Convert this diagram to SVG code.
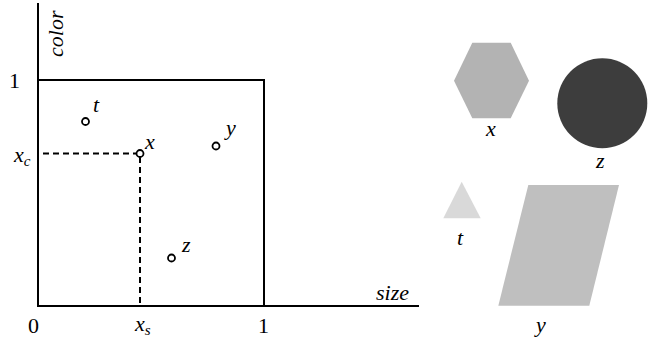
<svg xmlns="http://www.w3.org/2000/svg" width="662" height="339" viewBox="0 0 662 339" font-family="Liberation Serif, DejaVu Serif, serif" font-size="22">
<style>
.ax{stroke:#000;stroke-width:2;fill:none}
.d{stroke:#000;stroke-width:2;stroke-dasharray:6,4;fill:none}
.pt{fill:#fff;stroke:#000;stroke-width:1.8}
</style>
<rect width="662" height="339" fill="#fff"/>
<g id="axes">
<path class="ax" d="M38,3 V306 H419"/>
<path class="ax" d="M38,80 H264 V306"/>
<text font-style="italic" transform="translate(63,57) rotate(-90)">color</text>
<text font-style="italic" x="376" y="300">size</text>
<text x="9" y="88">1</text>
<text x="28" y="333">0</text>
<text x="258" y="333">1</text>
<text font-style="italic" x="14" y="162">x<tspan font-size="15" dy="4">c</tspan></text>
<text font-style="italic" x="135" y="331">x<tspan font-size="15" dy="4">s</tspan></text>
</g>
<g id="connectors">
<path class="d" d="M43,153.5 H136"/>
<path class="d" d="M140,157 V306"/>
</g>
<g id="point-t"><circle class="pt" cx="85.5" cy="121.5" r="3.5"/><text font-style="italic" x="93" y="112">t</text></g>
<g id="point-x"><circle class="pt" cx="140" cy="153.5" r="3.5"/><text font-style="italic" x="145" y="149">x</text></g>
<g id="point-y"><circle class="pt" cx="216" cy="146" r="3.5"/><text font-style="italic" x="226" y="135">y</text></g>
<g id="point-z"><circle class="pt" cx="171.5" cy="258" r="3.5"/><text font-style="italic" x="182" y="252">z</text></g>
<g id="shape-x"><polygon points="454,80.7 472.3,42.7 510.7,42.7 529,80.7 510.7,118.3 472.3,118.3" fill="#b3b3b3"/><text font-style="italic" x="486" y="136">x</text></g>
<g id="shape-z"><circle cx="602.3" cy="103.3" r="45" fill="#3d3d3d"/><text font-style="italic" x="596" y="168">z</text></g>
<g id="shape-t"><polygon points="461.7,181.7 480.7,218.3 443.3,218.3" fill="#d9d9d9"/><text font-style="italic" x="457" y="245">t</text></g>
<g id="shape-y"><polygon points="528.3,185 619,185 589.3,305.7 498.3,305.7" fill="#bfbfbf"/><text font-style="italic" x="536" y="332">y</text></g>
</svg>
